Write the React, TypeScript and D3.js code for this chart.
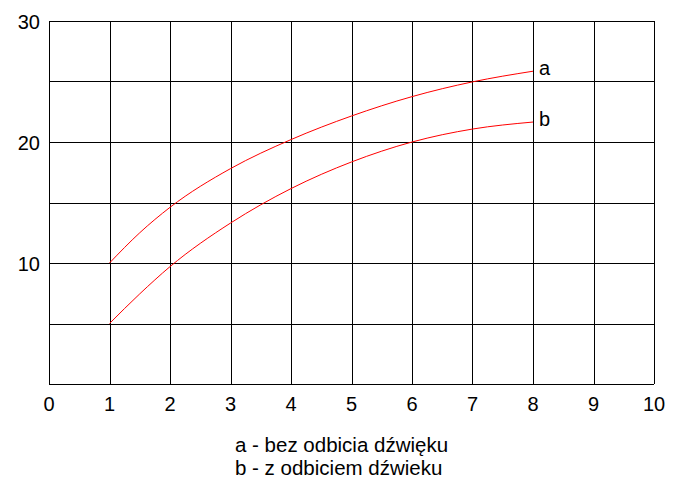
import React from "react";
import * as d3 from "d3";

const xTicks = [0, 1, 2, 3, 4, 5, 6, 7, 8, 9, 10];
const yTicks = [0, 5, 10, 15, 20, 25, 30];
const yLabels = [10, 20, 30];
const xs = [1, 1.5, 2, 3, 4, 5, 6, 7, 8];
const seriesA = [10, 12.5, 14.6, 17.8, 20.2, 22.15, 23.75, 24.97, 25.85];
const seriesB = [5, 7.45, 9.7, 13.3, 16.15, 18.35, 20.0, 21.07, 21.65];
const legend = ["a - bez odbicia dźwięku", "b - z odbiciem dźwieku"];

export default function App() {
  const W = 678, H = 477;
  const x = d3.scaleLinear().domain([0, 10]).range([49, 654]);
  const y = d3.scaleLinear().domain([0, 30]).range([384, 21]);
  const line = d3
    .line<number>()
    .x((_, i) => x(xs[i]))
    .y((d) => y(d))
    .curve(d3.curveMonotoneX);
  const font = "Liberation Sans, Arial, sans-serif";
  return (
    <svg width={W} height={H} style={{ position: "absolute", left: 0, top: 0, background: "#fff" }}>
      {xTicks.map((t) => (
        <line key={"gx" + t} x1={Math.round(x(t)) + 0.5} x2={Math.round(x(t)) + 0.5} y1={y(30)} y2={y(0)} stroke="#000" strokeWidth={1} />
      ))}
      {yTicks.map((t) => (
        <line key={"gy" + t} x1={x(0)} x2={x(10)} y1={Math.round(y(t)) + 0.5} y2={Math.round(y(t)) + 0.5} stroke="#000" strokeWidth={1} />
      ))}
      {xTicks.map((t) => (
        <text key={"tx" + t} x={x(t)} y={411} textAnchor="middle" fontFamily={font} fontSize={20} fill="#000">
          {t}
        </text>
      ))}
      {yLabels.map((t) => (
        <text key={"ty" + t} x={40} y={y(t) + 8} textAnchor="end" fontFamily={font} fontSize={20} fill="#000">
          {t}
        </text>
      ))}
      <path d={line(seriesA) || ""} fill="none" stroke="#ff0000" strokeWidth={1} />
      <path d={line(seriesB) || ""} fill="none" stroke="#ff0000" strokeWidth={1} />
      <text x={x(8) + 6} y={y(seriesA[seriesA.length - 1]) + 4} fontFamily={font} fontSize={20} fill="#000">a</text>
      <text x={x(8) + 6} y={y(seriesB[seriesB.length - 1]) + 4} fontFamily={font} fontSize={20} fill="#000">b</text>
      {legend.map((s, i) => (
        <text key={s} x={235} y={452 + i * 22.5} fontFamily={font} fontSize={20.5} fill="#000">
          {s}
        </text>
      ))}
    </svg>
  );
}
